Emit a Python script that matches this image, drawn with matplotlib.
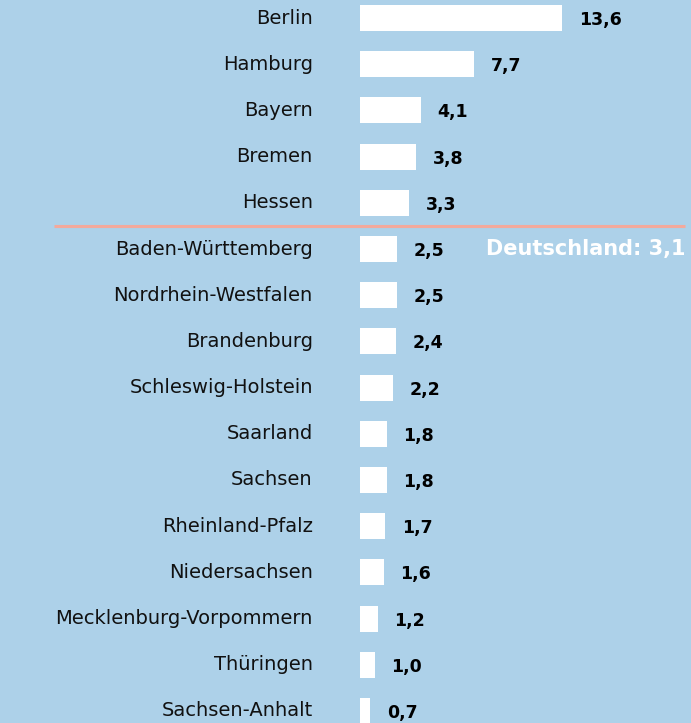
import matplotlib.pyplot as plt

# Data
states = [
    "Berlin", "Hamburg", "Bayern", "Bremen", "Hessen",
    "Baden-Württemberg", "Nordrhein-Westfalen", "Brandenburg",
    "Schleswig-Holstein", "Saarland", "Sachsen", "Rheinland-Pfalz",
    "Niedersachsen", "Mecklenburg-Vorpommern", "Thüringen", "Sachsen-Anhalt",
]
values = [13.6, 7.7, 4.1, 3.8, 3.3, 2.5, 2.5, 2.4, 2.2, 1.8, 1.8, 1.7, 1.6, 1.2, 1.0, 0.7]
germany_label = "Deutschland: 3,1"

BG = "#add1e9"
LINE = "#f3a99c"

plt.rcParams["font.family"] = ["DejaVu Sans"]

fig = plt.figure(figsize=(6.91, 7.23), dpi=100, facecolor=BG)
ax = fig.add_axes([0, 0, 1, 1])
ax.set_facecolor(BG)

rows = list(range(len(states)))
ax.barh(rows, values, height=0.56, color="white", left=0)

for y, name, v in zip(rows, states, values):
    # category label, right aligned left of the bars
    ax.annotate(name, (0, y), xytext=(-34, 0), textcoords="offset points",
                ha="right", va="center", fontsize=14, color="#111111")
    # value label
    ax.annotate(f"{v:.1f}".replace(".", ","), (v, y), xytext=(12, -1.5),
                textcoords="offset points", ha="left", va="center",
                fontsize=12.5, fontweight="bold", color="black")

# separator line between Hessen and Baden-Württemberg
ax.plot([-20.6, 21.9], [4.5, 4.5], color=LINE, linewidth=2.2, solid_capstyle="butt")
ax.text(21.9, 5, germany_label, ha="right", va="center", fontsize=15,
        fontweight="bold", color="white")

ax.set_xlim(-24.24, 22.29)
ax.set_ylim(15.26, -0.39)
ax.axis("off")

fig.savefig("out.png", dpi=100, facecolor=BG)
